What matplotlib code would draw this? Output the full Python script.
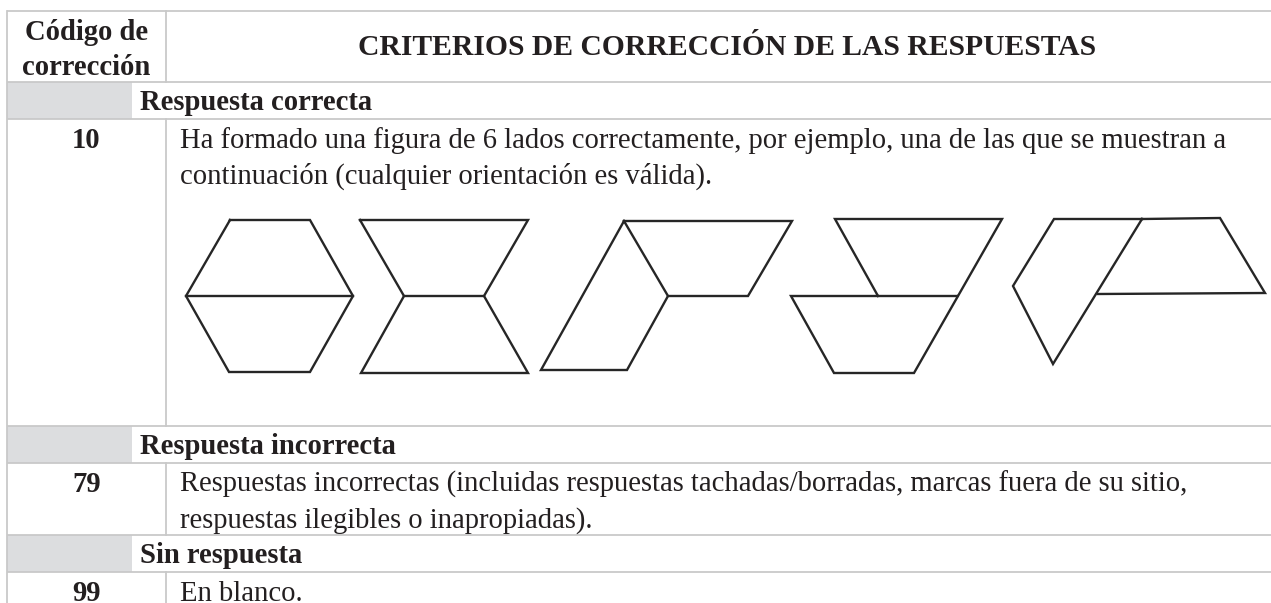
import matplotlib.pyplot as plt

# table content
header_code = ["Código de", "corrección"]
header_title = "CRITERIOS DE CORRECCIÓN DE LAS RESPUESTAS"
sections = ["Respuesta correcta", "Respuesta incorrecta", "Sin respuesta"]
codes = ["10", "79", "99"]
descriptions = [
    ["Ha formado una figura de 6 lados correctamente, por ejemplo, una de las que se muestran a",
     "continuación (cualquier orientación es válida)."],
    ["Respuestas incorrectas (incluidas respuestas tachadas/borradas, marcas fuera de su sitio,",
     "respuestas ilegibles o inapropiadas)."],
    ["En blanco."],
]

# example figures, each a list of polylines (pixel coords of the picture)
shape_hexagon = [
    [(230, 220), (310, 220), (353, 296), (310, 372), (229, 372), (186, 296), (230, 220)],
    [(186, 296), (353, 296)],
]
shape_hourglass = [
    [(360, 220), (528, 220), (484, 296), (528, 373), (361, 373), (404, 296), (360, 220)],
    [(404, 296), (484, 296)],
]
shape_rhombus_trap = [
    [(624, 221), (668, 296), (627, 370), (541, 370), (624, 221)],
    [(624, 221), (792, 221), (748, 296), (668, 296)],
]
shape_stacked = [
    [(878, 296), (835, 219), (1002, 219), (914, 373), (834, 373), (791, 296), (957, 296)],
]
shape_kite_trap = [
    [(1142, 219), (1054, 219), (1013, 286), (1053, 364), (1142, 219)],
    [(1142, 219), (1220, 218), (1265, 293), (1098, 294)],
]
shapes = [shape_hexagon, shape_hourglass, shape_rhombus_trap, shape_stacked, shape_kite_trap]

W, H = 1271, 603
fig = plt.figure(figsize=(W / 100, H / 100), dpi=100)
ax = fig.add_axes([0, 0, 1, 1])
ax.set_xlim(0, W)
ax.set_ylim(H, 0)
ax.axis("off")

line_c = "#c9c9c9"
gray = "#dcdddf"
ink = "#231f20"
font = "Liberation Serif"
fs = 20.6

x_left, x_div, x_gray = 7, 166, 132
y_top, y_head = 11, 82
sec_rows = [(82, 119), (426, 463), (535, 572)]
code_rows = [(119, 426), (463, 535), (572, 603)]

# gray cells of section rows
for (a, b), name in zip(sec_rows, sections):
    ax.fill_between([x_left, x_gray], a, b, color=gray, lw=0)
    ax.text(140, a + 28, name, fontsize=fs, fontweight="bold", family=font,
            color=ink, va="baseline")

# horizontal rules
for y in [y_top, y_head] + [r[1] for r in sec_rows] + [r[1] for r in code_rows[:-1]]:
    ax.plot([x_left, W], [y, y], color=line_c, lw=1.3, solid_capstyle="butt")

# vertical rules
ax.plot([x_left, x_left], [y_top, H], color=line_c, lw=1.3)
ax.plot([x_div, x_div], [y_top, y_head], color=line_c, lw=1.3)
for a, b in code_rows:
    ax.plot([x_div, x_div], [a, b], color=line_c, lw=1.3)

# header
for i, t in enumerate(header_code):
    ax.text((x_left + x_div) / 2, 40 + 35 * i, t, fontsize=fs, fontweight="bold",
            family=font, color=ink, ha="center", va="baseline")
ax.text(727, 55, header_title, fontsize=21.3, fontweight="bold", family=font,
        color=ink, ha="center", va="baseline")

# code rows
for (a, b), code, lines in zip(code_rows, codes, descriptions):
    ax.text((x_left + x_div) / 2, a + 29, code, fontsize=fs, fontweight="bold",
            family=font, color=ink, ha="center", va="baseline")
    for i, t in enumerate(lines):
        ax.text(180, a + 29 + 35.5 * i, t, fontsize=fs, family=font, color=ink,
                va="baseline")

# figures
for shp in shapes:
    for poly in shp:
        xs = [p[0] for p in poly]
        ys = [p[1] for p in poly]
        ax.plot(xs, ys, color="#262626", lw=1.7, solid_joinstyle="miter")

fig.savefig("out.png", dpi=100)
